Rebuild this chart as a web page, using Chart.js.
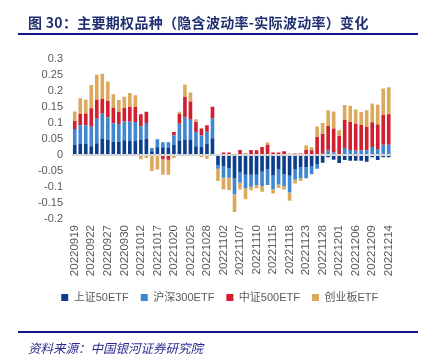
<!DOCTYPE html>
<html><head><meta charset="utf-8">
<script src="https://cdn.jsdelivr.net/npm/chart.js@4"></script>
<style>
html,body{margin:0;padding:0;background:#fff;width:428px;height:356px;overflow:hidden;position:relative;}
#title{position:absolute;left:28px;top:12px;font:bold 14px "Noto Sans CJK SC",sans-serif;color:#1f2f70;white-space:nowrap;letter-spacing:0.3px;}
.rule{position:absolute;left:18px;width:400px;height:2px;background:#16168a;}
#src{position:absolute;left:28px;top:338px;font:italic 12.5px "Noto Sans CJK SC",sans-serif;color:#2b2b90;white-space:nowrap;}
#wrap{position:absolute;left:0;top:0;width:428px;height:356px;}
</style></head><body>
<div id="wrap"><canvas id="c" width="428" height="356"></canvas></div>
<div id="title">图 30：主要期权品种（隐含波动率-实际波动率）变化</div>
<div class="rule" style="top:33px"></div>
<div class="rule" style="top:331px"></div>
<div id="src">资料来源：中国银河证券研究院</div>
<script>
const dates = ["20220919","20220920","20220921","20220922","20220923","20220926","20220927","20220928","20220929","20220930",
"20221010","20221011","20221012","20221013","20221014","20221017","20221018","20221019","20221020","20221021","20221024","20221025","20221026","20221027","20221028","20221031",
"20221101","20221102","20221103","20221104","20221107","20221108","20221109","20221110","20221111","20221114","20221115","20221116","20221117","20221118","20221121","20221122","20221123","20221124","20221125","20221128","20221129","20221130",
"20221201","20221202","20221205","20221206","20221207","20221208","20221209","20221212","20221213","20221214"];

const sz50 = [0.031,0.034,0.034,0.027,0.037,0.050,0.047,0.041,0.041,0.046,0.044,0.044,0.047,0.050,0.012,0.024,0.024,0.022,0.031,0.045,
0.047,0.047,0.027,0.025,0.035,0.052,-0.033,-0.036,-0.041,-0.073,-0.055,-0.062,-0.062,-0.062,-0.052,-0.044,-0.064,-0.045,-0.060,-0.065,
-0.044,-0.038,-0.038,-0.036,-0.028,-0.024,-0.007,-0.015,-0.025,-0.016,-0.018,-0.018,-0.018,-0.021,-0.007,-0.016,-0.007,-0.007];
const hs300 = [0.050,0.059,0.059,0.061,0.076,0.079,0.071,0.058,0.056,0.059,0.060,0.059,0.043,0.050,0.010,0.025,0.016,0.018,0.030,0.053,
0.070,0.063,0.045,0.036,0.038,0.062,-0.010,-0.035,-0.030,-0.050,-0.032,-0.042,-0.037,-0.032,-0.045,-0.050,-0.043,-0.047,-0.037,-0.052,
-0.033,-0.035,-0.035,-0.024,-0.015,0.004,0.014,0.008,0.000,0.022,0.016,0.014,0.014,0.015,0.025,0.019,0.032,0.032];
const zz500 = [0.025,0.035,0.037,0.058,0.060,0.047,0.051,0.049,0.038,0.042,0.047,0.047,0.037,0.035,0.000,0.000,-0.013,-0.015,0.011,0.030,
0.065,0.057,0.031,0.022,0.020,0.037,0.003,0.008,0.008,0.002,0.016,0.005,0.016,0.015,0.025,0.032,0.008,0.008,0.012,0.004,
0.005,0.005,0.016,0.015,0.056,0.062,0.077,0.075,0.059,0.088,0.087,0.084,0.080,0.073,0.077,0.076,0.094,0.095];
const cyb = [0.030,0.049,0.043,0.073,0.078,0.078,0.061,0.042,0.037,0.035,0.043,0.037,-0.013,-0.009,-0.050,-0.045,-0.049,-0.047,-0.009,0.007,
0.038,0.028,0.009,-0.007,-0.012,0.000,-0.038,-0.037,-0.038,-0.055,-0.021,-0.034,-0.011,-0.010,-0.018,0.007,-0.013,-0.011,-0.011,-0.026,
-0.012,-0.008,0.014,0.009,0.033,0.034,0.049,0.053,0.018,0.046,0.051,0.044,0.040,0.052,0.059,0.062,0.082,0.085];

const seriesNames = ["上证50ETF","沪深300ETF","中证500ETF","创业板ETF"];
const yTicks = [-0.2,-0.15,-0.1,-0.05,0,0.05,0.1,0.15,0.2,0.25,0.3];

const colors = ["#0b3f8c","#3f87d3","#d21f2f","#dcaa5e"];
const FONT = '"Liberation Sans","Noto Sans CJK SC",sans-serif';

const shiftLegend = {
  id: 'shiftLegend',
  afterLayout(chart) { const l = chart.legend; if (l) { l.left += 24; l.right += 24; } }
};

new Chart(document.getElementById('c'), {
  type: 'bar',
  data: {
    labels: dates,
    datasets: [sz50, hs300, zz500, cyb].map((d, i) => ({
      label: seriesNames[i], data: d, backgroundColor: colors[i],
      barPercentage: 0.66, categoryPercentage: 1.0, borderWidth: 0
    }))
  },
  plugins: [shiftLegend],
  options: {
    responsive: false, animation: false,
    layout: { padding: { top: 59, left: 0, right: 36.5, bottom: 43 } },
    plugins: {
      legend: {
        position: 'bottom',
        labels: { boxWidth: 7, boxHeight: 7, padding: 12, color: '#595959', font: { family: FONT, size: 11 } }
      },
      tooltip: { enabled: false }
    },
    scales: {
      x: {
        stacked: true,
        grid: { display: false, drawTicks: false },
        border: { display: false },
        afterBuildTicks: s => { s.ticks = s.ticks.filter(t => t.value % 3 === 0); },
        afterFit: s => { s.height = 61; },
        ticks: {
          autoSkip: false, maxRotation: 90, minRotation: 90, padding: 6,
          color: '#595959', font: { family: FONT, size: 11.5 },
          callback: function(v) { return dates[v]; }
        }
      },
      y: {
        stacked: true, min: -0.2, max: 0.3,
        afterBuildTicks: s => { s.ticks = yTicks.map(v => ({ value: v })); },
        afterFit: s => { s.width = 72; },
        border: { display: false },
        grid: {
          drawTicks: false,
          color: ctx => (ctx.tick && ctx.tick.value === 0) ? '#d6d6d6' : 'rgba(0,0,0,0)',
          lineWidth: ctx => (ctx.tick && ctx.tick.value === 0) ? 2 : 0
        },
        ticks: {
          autoSkip: false, padding: 9, color: '#595959', font: { family: FONT, size: 11 },
          callback: v => String(Math.round(v * 100) / 100)
        }
      }
    }
  }
});
</script>
</body></html>
